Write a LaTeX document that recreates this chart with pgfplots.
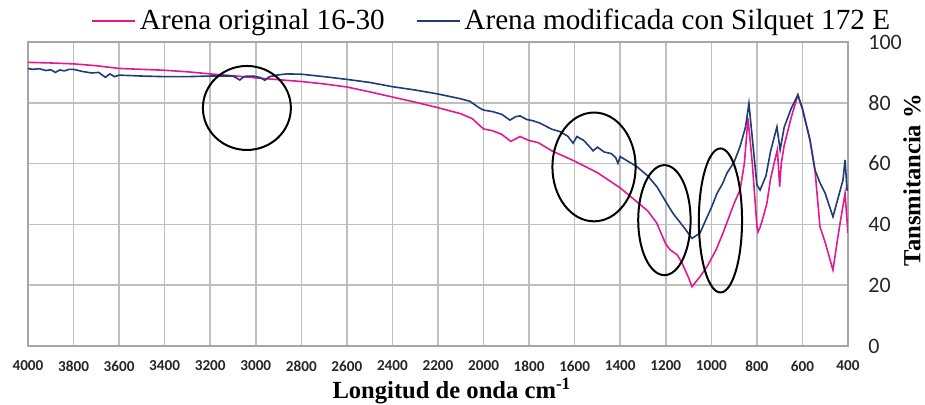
\documentclass[border=0pt]{standalone}
\usepackage{fontspec}
\setmainfont{Liberation Serif}
\newfontfamily\calibri{Carlito}
\usepackage{pgfplots}
\pgfplotsset{compat=1.18}
\definecolor{magline}{HTML}{E2198F}
\definecolor{navyline}{HTML}{1F3B78}
\definecolor{gridgray}{HTML}{BFBFBF}
\begin{document}
\begin{tikzpicture}
\begin{axis}[
  name=ax,
  scale only axis,
  width=410pt, height=152pt,
  xmin=400, xmax=4000, x dir=reverse,
  ymin=0, ymax=100,
  xtick={400,600,...,4000},
  ytick={0,20,...,100},
  /pgf/number format/assume math mode=true,
  /pgf/number format/set thousands separator={},
  major tick length=0pt,
  grid=major,
  major grid style={draw=gridgray, line width=0.75pt},
  axis line style={draw=gray!70, line width=0.75pt},
  yticklabel pos=right,
  xticklabel style={font=\calibri\bfseries\fontsize{7.6}{9}\selectfont, anchor=center, yshift=-10pt, text=black!85},
  yticklabel style={font=\calibri\fontsize{11}{13}\selectfont, anchor=west, inner sep=0pt, xshift=10pt, text=black!85},
  xlabel={\bfseries Longitud de onda cm\textsuperscript{-1}},
  ylabel={\bfseries Tansmitancia \%},
  xlabel style={font=\fontsize{12.3}{14}\selectfont, at={(axis description cs:0.517,-0.148)}, anchor=center},
  ylabel style={font=\fontsize{12.3}{14}\selectfont, at={(axis description cs:1.078,0.546)}, anchor=center, rotate=0},
  legend columns=2,
  legend cell align=left,
  legend style={at={(axis description cs:0.0768,1.07)}, anchor=west, draw=none, fill=none, inner sep=0pt,
    font=\fontsize{14.6}{17}\selectfont,
    nodes={inner ysep=0.3pt},
    /tikz/every odd column/.append style={column sep=0pt},
    /tikz/every even column/.append style={column sep=13.5pt}},
  legend image code/.code={\draw[#1] (0pt,0pt) -- (21.5pt,0pt);},
]
\addplot[magline, line width=0.8pt] table {
x y
4000 93.3
3900 93.1
3800 92.8
3700 92.2
3600 91.3
3500 91.0
3400 90.7
3300 90.2
3200 89.5
3100 88.9
3000 88.2
2900 87.6
2800 87.0
2700 86.2
2600 85.2
2500 83.6
2400 81.9
2300 80.2
2200 78.4
2100 76.4
2050 74.8
2000 71.4
1960 70.8
1920 69.6
1880 67.3
1840 68.9
1800 67.6
1760 66.9
1700 64.2
1650 62.5
1600 60.8
1500 57.0
1400 52.0
1320 47.0
1280 44.5
1240 40.5
1200 33.5
1180 31.6
1150 30.0
1130 27.5
1100 22.5
1085 19.5
1050 22.8
1019 26.1
980 31.5
949 37.1
900 46.9
874 51.3
855 60
839 74.9
820 60
800 39.5
795 37.5
786 39.0
770 43
756 47
740 55
720 61.5
710 64.5
700 52.4
693 60
680 66
650 75
620 82.6
600 78
567 67.8
545 57.9
523 39.2
500 34
466 25
440 38
413 50.2
405 42
400 37.2
};
\addlegendentry{Arena original 16-30}
\addplot[navyline, line width=0.8pt] table {
x y
4000 91.3
3980 91.0
3950 91.2
3920 90.6
3900 90.9
3880 90.0
3860 90.8
3840 90.5
3820 91.0
3800 91.0
3760 90.3
3720 89.8
3690 90.0
3660 88.4
3640 89.5
3620 88.6
3600 89.1
3500 88.8
3400 88.6
3300 88.6
3200 88.8
3100 88.8
3070 87.5
3050 88.7
3012 88.8
2980 88.3
2960 87.4
2940 88.6
2900 89.2
2863 89.5
2800 89.4
2700 88.6
2600 87.7
2500 86.7
2400 85.3
2300 84.2
2200 82.9
2100 81.3
2060 80.5
2020 78.4
2000 77.6
1960 77.1
1920 76.2
1884 74.3
1860 75.4
1840 75.7
1810 74.5
1783 74.1
1752 73.3
1700 71.3
1664 70.5
1630 69.0
1607 66.7
1590 68.9
1560 67.6
1540 66.0
1519 64.2
1500 65.4
1470 63.8
1440 63.3
1420 62.0
1410 60.1
1400 62.3
1327 59.0
1280 56.0
1239 52.4
1200 47.5
1168 43.6
1120 39.0
1085 35.4
1050 37.1
1030 40.5
1000 45.5
975 50.2
950 53.5
932 56.8
900 60.5
874 65.6
850 72
835 79.8
800 53
786 51.3
760 56
740 64
712 72.1
698 64.5
680 72
650 78
620 82.6
600 78
567 67.8
545 57.9
522 53.5
500 50.2
466 42.5
422 54.6
413 61.2
404 51.3
400 51.3
};
\addlegendentry{Arena modificada con Silquet 172 E}
\draw[black, line width=1pt] (axis cs:3039,78.3) ellipse [x radius=22pt, y radius=21pt];
\draw[black, line width=1pt] (axis cs:1515,58.9) ellipse [x radius=20.8pt, y radius=27.2pt];
\draw[black, line width=1pt] (axis cs:1206,41.4) ellipse [x radius=13.1pt, y radius=27.5pt];
\draw[black, line width=1pt] (axis cs:960,41.3) ellipse [x radius=10.8pt, y radius=36pt];
\end{axis}
\pgfresetboundingbox
\path[use as bounding box] ([shift={(-14pt,-29.5pt)}]ax.south west) rectangle ([shift={(38.5pt,21pt)}]ax.north east);
\end{tikzpicture}
\end{document}
